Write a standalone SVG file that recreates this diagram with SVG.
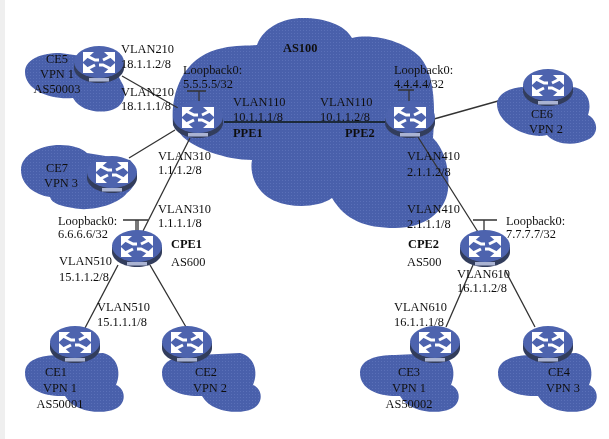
<svg xmlns="http://www.w3.org/2000/svg" xmlns:xlink="http://www.w3.org/1999/xlink" width="609" height="439" viewBox="0 0 609 439">
<style>
text{font-family:"Liberation Serif","Times New Roman",serif;font-size:12.4px;fill:#111}
.b{font-weight:bold}
.m{text-anchor:middle}
.c{fill:url(#dots)}
.l{stroke:#333;stroke-width:1.3;fill:none}
.k{stroke:#1c2a3a;stroke-width:2;fill:none}
</style>
<defs>
<filter id="soft" x="-2%" y="-2%" width="104%" height="104%"><feGaussianBlur stdDeviation="0.55"/></filter>
<pattern id="dots" width="3" height="3" patternUnits="userSpaceOnUse"><rect width="3" height="3" fill="#4a60ab"/><rect width="1" height="1" fill="#5a70b8"/></pattern>
<g id="router">
<path d="M0 16V21C0 29 11 36 25 36S50 29 50 21V16Z" fill="#333c5c"/>
<ellipse cx="25" cy="15" rx="25" ry="16" fill="#4d64ae"/>
<rect x="15" y="31" width="20" height="3.500" fill="#aab3d2"/>
<path d="M9 5H20L9 15ZM41 5H30L41 15ZM9 26H20L9 16ZM41 26H30L41 16Z" fill="#fff"/>
<path d="M13 9L21 13H25M37 9L29 13M13 22L21 18M37 22L29 18H25" stroke="#fff" stroke-width="3" fill="none"/>
</g>
<path id="cloudA" d="M0 21C0 8 15 3 35 3L78 1C92 4 97 20 91 33C101 37 102 52 90 57C80 62 50 62 40 44C20 45 0 38 0 21Z"/>
</defs>
<rect width="609" height="439" fill="#fff"/>
<rect width="5" height="439" fill="#efefef"/>
<g filter="url(#soft)">
<g id="cloud-as100"><path class="c" d="M173 125C170 90 185 55 223 48C235 45 248 46 257 45C262 30 280 18 303 18C325 18 345 25 352 38C375 33 405 42 420 57C433 72 436 100 433 138C445 150 450 170 448 190C445 212 425 228 395 228C365 228 345 220 332 198C315 210 280 208 265 195C253 185 250 170 252 160C225 160 195 148 183 137Z"/></g>
<g id="connectors">
<path class="l" d="M122 76L178 108M129 158L175 130M190 138L143 231M434 119L523 94M418 137L478 232M118 265L85 328M150 265L186 327M473 265L446 327M505 270L535 327"/>
<path class="k" d="M224 122H385"/>
<path class="l" d="M187 91H206M199 91V102M398 90H414M409 90V102M123 220H148M136 220V232M138 220V232M473 220H497M484 220V232"/>
</g>
<g id="ce5"><path class="c" d="M25 72C25 60 40 53 60 53L110 60L122 83C128 92 125 108 108 111C95 113 80 110 73 98C50 100 25 90 25 72Z"/><use xlink:href="#router" x="74" y="47"/><text class="m" x="57" y="63">CE5</text><text class="m" x="57" y="78">VPN 1</text><text class="m" x="57" y="93">AS50003</text></g>
<g id="ce7"><path class="c" d="M21 170C21 155 40 145 60 145C72 145 82 148 87 153L130 160C140 170 138 185 127 193C118 205 90 212 73 208C62 206 52 204 50 197C35 195 21 185 21 170Z"/><use xlink:href="#router" x="87" y="157"/><text class="m" x="57" y="172">CE7</text><text class="m" x="61" y="187">VPN 3</text></g>
<g id="ce6"><path class="c" d="M497 104C497 94 510 87 525 87L572 87C585 88 593 100 588 115C598 120 600 135 587 140C575 146 555 145 547 135C530 140 497 125 497 104Z"/><use xlink:href="#router" x="523" y="70"/><text class="m" x="542" y="118">CE6</text><text class="m" x="546" y="133">VPN 2</text></g>
<g id="ce1"><use xlink:href="#cloudA" class="c" transform="translate(25 352)"/><use xlink:href="#router" x="50" y="327"/><text class="m" x="56" y="376">CE1</text><text class="m" x="60" y="392">VPN 1</text><text class="m" x="60" y="408">AS50001</text></g>
<g id="ce2"><use xlink:href="#cloudA" class="c" transform="translate(162 352)"/><use xlink:href="#router" x="162" y="327"/><text class="m" x="206" y="376">CE2</text><text class="m" x="210" y="392">VPN 2</text></g>
<g id="ce3"><use xlink:href="#cloudA" class="c" transform="translate(360 352)"/><use xlink:href="#router" x="410" y="327"/><text class="m" x="409" y="376">CE3</text><text class="m" x="409" y="392">VPN 1</text><text class="m" x="409" y="408">AS50002</text></g>
<g id="ce4"><use xlink:href="#cloudA" class="c" transform="translate(498 352)"/><use xlink:href="#router" x="523" y="327"/><text class="m" x="559" y="376">CE4</text><text class="m" x="563" y="392">VPN 3</text></g>
<g id="ppe1"><use xlink:href="#router" x="173" y="102"/><text class="b" x="233" y="137">PPE1</text></g>
<g id="ppe2"><use xlink:href="#router" x="385" y="102"/><text class="b" x="345" y="137">PPE2</text></g>
<g id="cpe1"><use xlink:href="#router" x="112" y="231"/><text class="b" x="171" y="248">CPE1</text><text x="171" y="266">AS600</text></g>
<g id="cpe2"><use xlink:href="#router" x="460" y="231"/><text class="b" x="408" y="248">CPE2</text><text x="407" y="266">AS500</text></g>
<g id="labels">
<text class="b" x="283" y="52">AS100</text>
<text x="121" y="53">VLAN210</text><text x="121" y="68">18.1.1.2/8</text>
<text x="121" y="96">VLAN210</text><text x="121" y="110">18.1.1.1/8</text>
<text x="183" y="74">Loopback0:</text><text x="183" y="88">5.5.5.5/32</text>
<text x="233" y="106">VLAN110</text><text x="233" y="121">10.1.1.1/8</text>
<text x="320" y="106">VLAN110</text><text x="320" y="121">10.1.1.2/8</text>
<text x="394" y="74">Loopback0:</text><text x="394" y="88">4.4.4.4/32</text>
<text x="158" y="160">VLAN310</text><text x="158" y="174">1.1.1.2/8</text>
<text x="158" y="213">VLAN310</text><text x="158" y="227">1.1.1.1/8</text>
<text x="58" y="225">Loopback0:</text><text x="58" y="238">6.6.6.6/32</text>
<text x="59" y="265">VLAN510</text><text x="59" y="281">15.1.1.2/8</text>
<text x="97" y="311">VLAN510</text><text x="97" y="326">15.1.1.1/8</text>
<text x="407" y="160">VLAN410</text><text x="407" y="176">2.1.1.2/8</text>
<text x="407" y="213">VLAN410</text><text x="407" y="228">2.1.1.1/8</text>
<text x="506" y="225">Loopback0:</text><text x="506" y="238">7.7.7.7/32</text>
<text x="457" y="278">VLAN610</text><text x="457" y="292">16.1.1.2/8</text>
<text x="394" y="311">VLAN610</text><text x="394" y="326">16.1.1.1/8</text>
</g>
</g>
</svg>
